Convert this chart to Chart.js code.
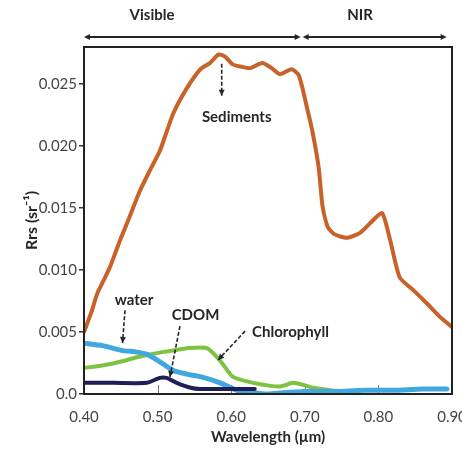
<!DOCTYPE html>
<html>
<head>
<meta charset="utf-8">
<script src="https://cdn.jsdelivr.net/npm/chart.js@4/dist/chart.umd.min.js"></script>
<style>
    html, body { margin: 0; padding: 0; background: #fff; }
    #wrap { width: 462px; height: 449px; }
</style>
</head>
<body>
<div id="wrap"><canvas id="rrs" width="462" height="449"></canvas></div>
<script>
// wavelength (µm) and remote sensing reflectance (sr^-1) per constituent
const sedimentWl = [0.400, 0.410, 0.418, 0.427, 0.435, 0.449, 0.462, 0.476, 0.490, 0.503, 0.521, 0.540, 0.558, 0.571, 0.583, 0.592, 0.602, 0.614, 0.626, 0.642, 0.655, 0.666, 0.682, 0.692, 0.703, 0.711, 0.719, 0.724, 0.731, 0.740, 0.757, 0.775, 0.789, 0.805, 0.816, 0.829, 0.847, 0.866, 0.884, 0.900]
const sedimentRrs = [0.0050, 0.0066, 0.0081, 0.0092, 0.0102, 0.0124, 0.0143, 0.0164, 0.0181, 0.0196, 0.0226, 0.0247, 0.0262, 0.0267, 0.0274, 0.0272, 0.0266, 0.0264, 0.0263, 0.0267, 0.0263, 0.0258, 0.0262, 0.0257, 0.0231, 0.0210, 0.0182, 0.0152, 0.0135, 0.0129, 0.0126, 0.0130, 0.0138, 0.0146, 0.0124, 0.0094, 0.0084, 0.0073, 0.0062, 0.0054]

const waterWl = [0.400, 0.425, 0.453, 0.470, 0.486, 0.503, 0.521, 0.540, 0.558, 0.585, 0.608, 0.630, 0.650, 0.670, 0.700, 0.740, 0.780, 0.820, 0.860, 0.893]
const waterRrs = [0.0041, 0.0039, 0.0035, 0.0034, 0.0032, 0.0026, 0.0019, 0.0016, 0.0014, 0.0009, 0.0003, 0.0001, 0.0000, 0.0001, 0.0002, 0.0002, 0.0003, 0.0003, 0.0004, 0.0004]

const chlWl = [0.400, 0.425, 0.449, 0.475, 0.499, 0.520, 0.540, 0.567, 0.585, 0.602, 0.630, 0.666, 0.684, 0.700, 0.711, 0.735, 0.757]
const chlRrs = [0.0021, 0.0023, 0.0026, 0.0030, 0.0033, 0.0035, 0.0037, 0.0037, 0.0027, 0.0014, 0.0009, 0.0006, 0.0009, 0.0007, 0.0005, 0.0003, 0.0002]

const cdomWl = [0.400, 0.440, 0.485, 0.503, 0.512, 0.526, 0.545, 0.558, 0.600, 0.632]
const cdomRrs = [0.0009, 0.0009, 0.0009, 0.0013, 0.0013, 0.0009, 0.0005, 0.0004, 0.0004, 0.0004]

const xTickValues = [0.40, 0.50, 0.60, 0.70, 0.80, 0.90]
const yTickValues = [0, 0.005, 0.010, 0.015, 0.020, 0.025]

const toPoints = (xs, ys) => xs.map((x, i) => ({ x, y: ys[i] }))

const line = (label, xs, ys, color, width) => ({
    label,
    data: toPoints(xs, ys),
    borderColor: color,
    borderWidth: width,
    pointRadius: 0,
    tension: 0.2,
    borderJoinStyle: 'round',
    borderCapStyle: 'round',
    fill: false
})

// callouts: text and dashed arrows, in data units
const callouts = [
    { text: 'Sediments', at: [0.6075, 0.02233], from: [0.5871, 0.02665], to: [0.5871, 0.02407] },
    { text: 'water', at: [0.4679, 0.00757], from: [0.4557, 0.00676], to: [0.4523, 0.00411] },
    { text: 'CDOM', at: [0.5515, 0.00636], from: [0.5304, 0.00548], to: [0.5168, 0.00137] },
    { text: 'Chlorophyll', at: [0.6806, 0.00502], from: [0.6188, 0.00507], to: [0.5821, 0.00274] }
]

// spectral ranges above the frame
const bands = [
    { text: 'Visible', center: 0.4924, start: 0.400, end: 0.6944 },
    { text: 'NIR', center: 0.775, start: 0.6971, end: 0.8928 }
]

function arrowHead(ctx, x0, y0, x1, y1, len, half) {
    const a = Math.atan2(y1 - y0, x1 - x0)
    ctx.beginPath()
    ctx.moveTo(x1, y1)
    ctx.lineTo(x1 - len * Math.cos(a) + half * Math.sin(a), y1 - len * Math.sin(a) - half * Math.cos(a))
    ctx.lineTo(x1 - len * Math.cos(a) - half * Math.sin(a), y1 - len * Math.sin(a) + half * Math.cos(a))
    ctx.closePath()
    ctx.fill()
}

const decorations = {
    id: 'decorations',
    beforeDatasetsDraw(chart) {
        // small inward ticks on the wavelength axis
        const { ctx, chartArea, scales: { x } } = chart
        ctx.save()
        ctx.strokeStyle = '#777'
        ctx.lineWidth = 1
        xTickValues.forEach(v => {
            const px = Math.round(x.getPixelForValue(v)) + 0.5
            ctx.beginPath()
            ctx.moveTo(px, chartArea.bottom)
            ctx.lineTo(px, chartArea.bottom - 9)
            ctx.stroke()
        })
        ctx.restore()
    },
    afterDatasetsDraw(chart) {
        const { ctx, chartArea, scales: { x, y } } = chart
        ctx.save()
        // frame
        ctx.strokeStyle = '#222'
        ctx.lineWidth = 2
        ctx.strokeRect(chartArea.left, chartArea.top, chartArea.right - chartArea.left, chartArea.bottom - chartArea.top)

        ctx.fillStyle = '#262626'
        ctx.strokeStyle = '#262626'
        ctx.font = 'bold 15px Lato'
        ctx.textAlign = 'center'
        ctx.textBaseline = 'middle'

        callouts.forEach(c => {
            ctx.fillText(c.text, x.getPixelForValue(c.at[0]), y.getPixelForValue(c.at[1]))
            const x0 = x.getPixelForValue(c.from[0]), y0 = y.getPixelForValue(c.from[1])
            const x1 = x.getPixelForValue(c.to[0]), y1 = y.getPixelForValue(c.to[1])
            ctx.lineWidth = 1.6
            ctx.setLineDash([4, 2])
            ctx.beginPath()
            ctx.moveTo(x0, y0)
            ctx.lineTo(x1, y1)
            ctx.stroke()
            ctx.setLineDash([])
            arrowHead(ctx, x0, y0, x1, y1, 6, 3)
        })

        // Visible / NIR double arrows
        const arrowY = chartArea.top - 10
        bands.forEach(b => {
            ctx.fillText(b.text, x.getPixelForValue(b.center), chartArea.top - 32)
            const a = x.getPixelForValue(b.start), e = x.getPixelForValue(b.end)
            ctx.lineWidth = 2
            ctx.beginPath()
            ctx.moveTo(a + 3, arrowY)
            ctx.lineTo(e - 3, arrowY)
            ctx.stroke()
            arrowHead(ctx, e - 6, arrowY, a, arrowY, 6, 3)
            arrowHead(ctx, a + 6, arrowY, e, arrowY, 6, 3)
        })
        ctx.restore()
    }
}

Chart.defaults.font.family = 'Lato'
Chart.defaults.color = '#444'

new Chart(document.getElementById('rrs'), {
    type: 'line',
    data: {
        datasets: [
            line('CDOM', cdomWl, cdomRrs, '#1f1e58', 4),
            line('water', waterWl, waterRrs, '#40a8df', 5),
            line('Chlorophyll', chlWl, chlRrs, '#7dc243', 4),
            line('Sediments', sedimentWl, sedimentRrs, '#c8612a', 4)
        ]
    },
    options: {
        animation: false,
        responsive: false,
        layout: { padding: { top: 47, right: 10, left: 0, bottom: 0 } },
        plugins: {
            legend: { display: false },
            tooltip: { enabled: false }
        },
        scales: {
            x: {
                type: 'linear',
                min: 0.4,
                max: 0.9,
                afterBuildTicks: scale => { scale.ticks = xTickValues.map(value => ({ value })) },
                afterFit: scale => {
                    scale.height = 55
                    scale.paddingLeft = 0
                    scale.paddingRight = 0
                },
                grid: { display: false },
                border: { display: false },
                ticks: {
                    padding: 6,
                    maxRotation: 0,
                    font: { size: 15 },
                    callback: v => v.toFixed(2)
                },
                title: {
                    display: true,
                    text: 'Wavelength (µm)',
                    color: '#262626',
                    font: { size: 15, weight: 'bold' },
                    padding: { top: 0, bottom: 3 }
                }
            },
            y: {
                min: 0,
                max: 0.028,
                afterBuildTicks: scale => { scale.ticks = yTickValues.map(value => ({ value })) },
                afterFit: scale => { scale.width = 84 },
                grid: {
                    drawOnChartArea: false,
                    drawTicks: true,
                    tickLength: 5,
                    color: '#333',
                    lineWidth: 1.5
                },
                border: { display: false },
                ticks: {
                    padding: 2,
                    font: { size: 15 },
                    callback: v => (v === 0 ? '0.0' : v.toFixed(3))
                },
                title: {
                    display: true,
                    text: 'Rrs (sr⁻¹)',
                    color: '#262626',
                    font: { size: 16, weight: 'bold' },
                    padding: { top: 22, bottom: 0 }
                }
            }
        }
    },
    plugins: [decorations]
})
</script>
</body>
</html>
